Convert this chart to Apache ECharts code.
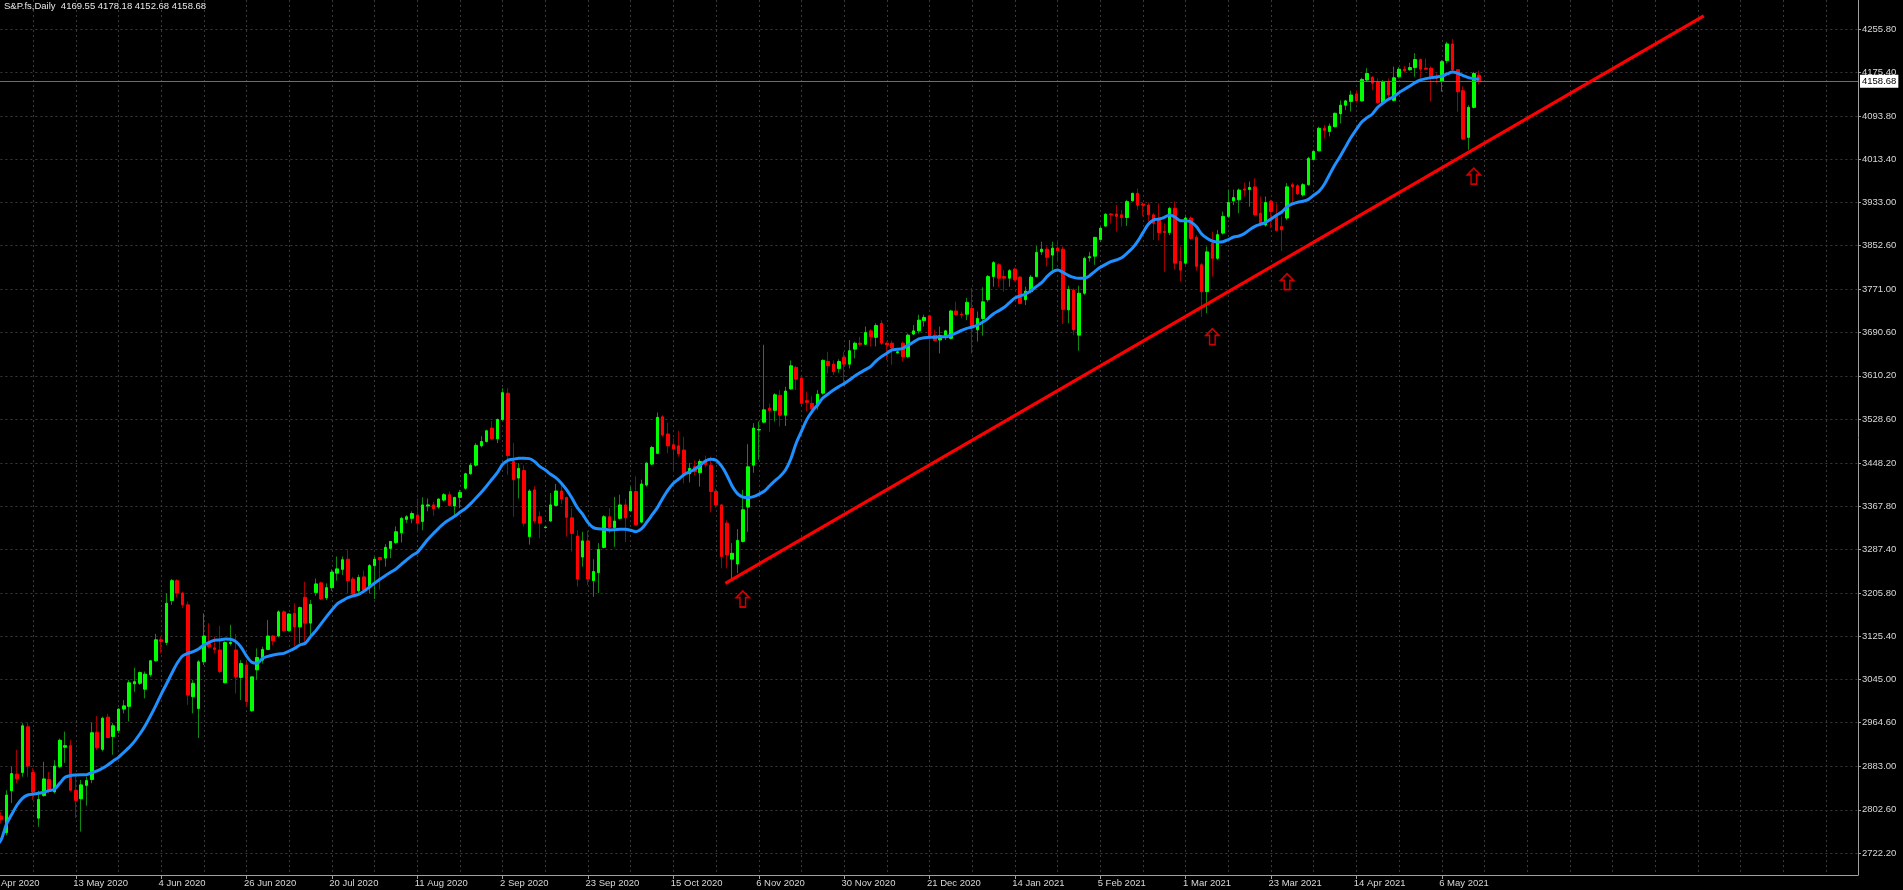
<!DOCTYPE html>
<html>
<head>
<meta charset="utf-8">
<script src="https://cdn.jsdelivr.net/npm/echarts@6/dist/echarts.min.js"></script>
<style>
html,body{margin:0;padding:0;background:#000;overflow:hidden;width:1903px;height:890px;position:relative;}
#chart{position:absolute;left:-20px;top:0;width:1923px;height:890px;}
</style>
</head>
<body>
<div id="chart"></div>
<script>
// ---------------- data ----------------
const chartTitle = 'S&P.fs,Daily  4169.55 4178.18 4152.68 4158.68';

// x tick labels, one every 16 bars starting at bar 0
const tickLabels = ['21 Apr 2020','13 May 2020','4 Jun 2020','26 Jun 2020','20 Jul 2020','11 Aug 2020',
  '2 Sep 2020','23 Sep 2020','15 Oct 2020','6 Nov 2020','30 Nov 2020','21 Dec 2020','14 Jan 2021',
  '5 Feb 2021','1 Mar 2021','23 Mar 2021','14 Apr 2021','6 May 2021'];

// price-scale labels on the right
const yTickValues = [4255.80,4175.40,4093.80,4013.40,3933.00,3852.60,3771.00,3690.60,3610.20,3528.60,
  3448.20,3367.80,3287.40,3205.80,3125.40,3045.00,2964.60,2883.00,2802.60,2722.20];

const open = [
2784,2736,2791,2760,2838,2869,2872,2957,2872,2787,
2829,2859,2836,2883,2919,2922,2839,2823,2848,2859,
2947,2915,2975,2939,2950,2990,2995,3037,3038,3027,
3054,3080,3119,3114,3192,3229,3206,3184,3013,2991,
3078,3112,3104,3100,3039,3112,3100,3049,3072,2987,
3063,3081,3101,3126,3126,3171,3136,3168,3143,3198,
3150,3207,3225,3197,3216,3243,3250,3269,3232,3210,
3236,3218,3257,3272,3271,3289,3300,3318,3343,3345,
3351,3339,3368,3370,3366,3379,3389,3368,3384,3401,
3428,3444,3480,3488,3513,3493,3529,3578,3451,3420,
3434,3311,3398,3348,3328,3340,3369,3396,3384,3346,
3312,3273,3303,3229,3244,3291,3348,3328,3345,3370,
3359,3395,3338,3407,3446,3466,3534,3502,3482,3480,
3472,3428,3441,3430,3452,3444,3395,3370,3336,3269,
3260,3302,3366,3444,3509.5,3524,3550,3546,3574,3537,
3586,3626,3606,3564,3559,3554,3578,3637,3632,3624,
3645,3632,3660,3671,3669,3694,3682,3708,3671,3671,
3653,3671,3646,3688,3694,3713,3722,3686,3677,3685,
3680,3731,3725,3725,3736,3696,3717,3752,3795,3817,
3795,3792,3809,3794,3752,3767,3795,3841,3846,3835,
3848,3846,3733,3770,3686,3764,3830,3833,3864,3889,
3911.5,3911.5,3910,3905,3936,3950,3930,3928,3910,3900,
3879,3877,3922,3823,3820,3904,3868,3817,3767,3857,
3829,3876,3907,3936,3938,3958,3957,3962,3913,3891,
3935,3908,3888,3904,3966,3964,3947,3966,4013,4029,
4071,4065,4074,4098,4114,4121,4135,4122,4161,4166,
4158,4119,4158,4123,4167,4181,4180,4184,4199,4183,
4183,4167,4158,4197,4228,4180,4141,4054,4110,4169.55];

const high = [
2786,2815,2799,2839,2883,2914,2964,2965,2880,2838,
2892,2873,2895,2935,2948,2933,2870,2858,2864,2965,
2977,2976,2981,2964,2991,3007,3044,3067,3060,3060,
3081,3130,3125,3206,3232,3232,3209,3190,3044,3081,
3168,3150,3125,3145,3116,3147,3130,3081,3078,3050,
3103,3106,3156,3128,3174,3174,3168,3187,3181,3227,
3193,3233,3227,3224,3250,3274,3274,3287,3236,3240,
3248,3260,3274,3274,3297,3302,3330,3348,3351,3358,
3382,3384,3382,3376,3382,3392,3395,3385,3398,3430,
3448,3485,3498,3510,3526,3531,3587,3587,3485,3448,
3444,3399,3405,3358,3330,3392,3409,3407,3385,3364,
3323,3320,3322,3269,3299,3351,3364,3385,3389,3381,
3404,3423,3417,3449,3480,3542,3537,3523,3494,3508,
3497,3448,3453,3455,3462,3460,3400,3371,3341,3299,
3325,3398,3483,3522,3525,3668,3559,3578,3584,3590,
3639,3629,3608,3581,3572,3584,3641,3655,3639,3641,
3655,3677,3674,3683,3702,3697,3708,3714,3674,3676,
3656,3674,3689,3705,3724,3724,3724,3696,3702,3696,
3733,3748,3730,3755,3774,3730,3775,3798,3824,3820,
3807,3809,3812,3796,3776,3798,3852,3860,3851,3860,
3863,3851,3778,3773,3778,3832,3841,3869,3888,3913,
3913,3928,3919,3938,3951,3959,3933,3933,3913,3931,
3894,3925,3935,3851,3910,3907,3872,3820,3851,3879,
3882,3916,3957,3957,3959,3970,3972,3978,3944,3944,
3938,3931,3907,3969,3970,3967,3969,4018,4031,4074,
4077,4080,4100,4123,4124,4141,4142,4165,4183,4168,
4164,4161,4164,4186,4185,4187,4193,4211,4201,4201,
4186,4173,4198,4232,4237,4181,4149,4114,4176,4178.18];

const low = [
2727,2730,2777,2755,2815,2852,2864,2864,2821,2771,
2827,2833,2833,2880,2890,2838,2787,2762,2810,2852,
2914,2911,2936,2905,2945,2982,2967,3022,3035,3010,
3050,3078,3094,3109,3184,3198,3178,2998,2982,2936,
3072,3103,3094,3057,3038,3108,3019,3007,2995,2985,
3045,3075,3100,3109,3124,3134,3134,3107,3112,3112,
3125,3201,3193,3193,3210,3229,3240,3205,3202,3202,
3207,3205,3195,3212,3255,3271,3297,3300,3336,3336,
3319,3323,3358,3350,3363,3376,3367,3348,3364,3398,
3426,3441,3477,3486,3491,3485,3526,3426,3348,3382,
3330,3296,3336,3308,3326,3339,3367,3372,3311,3283,
3218,3255,3221,3199,3206,3289,3317,3292,3343,3301,
3358,3331,3336,3404,3444,3465,3497,3466,3432,3460,
3410,3412,3425,3404,3440,3356,3365,3252,3252,3233,
3243,3300,3320,3430,3454,3522,3506,3525,3516,3517,
3584,3584,3556,3544,3547,3547,3575,3615,3612,3616,
3598,3624,3643,3665,3668,3665,3665,3668,3640,3631,
3652,3637,3643,3686,3689,3702,3596,3674,3652,3677,
3678,3722,3717,3714,3652,3674,3685,3748,3776,3776,
3767,3776,3786,3743,3742,3764,3794,3835,3814,3800,
3823,3707,3708,3686,3657,3761,3823,3817,3860,3888,
3894,3879,3888,3889,3934.5,3919,3907,3897,3863,3862,
3804,3872,3808,3786,3817,3863,3806,3720,3727,3795,
3826,3873,3904,3928,3913,3944,3925,3907,3888,3888,
3885,3879,3843,3900,3931,3947,3944,3964,4012,4028,
4052,4056,4073,4080,4105,4102,4119,4121,4158,4142,
4116,4118,4124,4121,4164,4175,4178,4167,4164,4180,
4121,4155,4139,4192,4177,4102,4049,4031,4108,4152.68];

const close = [
2736,2799,2784,2830,2870,2860,2959,2884,2836,2822,
2860,2839,2884,2932,2922,2839,2820,2849,2857,2946,
2918,2973,2937,2959,2990,2996,3039,3041,3058,3055,
3080,3119,3116,3187,3229,3206,3184,3016,3038,3078,
3126,3106,3101,3060,3114,3114,3050,3075,3004,3050,
3086,3101,3126,3117,3171,3136,3167,3143,3179,3150,
3185,3223,3195,3216,3245,3251,3268,3229,3204,3235,
3212,3257,3269,3268,3291,3302,3320,3345,3348,3354,
3336,3370,3370,3363,3381,3389,3369,3384,3393,3428,
3444,3481,3488,3508,3493,3529,3579,3462,3417,3438,
3336,3396,3340,3336,3329,3370,3396,3381,3347,3317,
3232,3303,3232,3246,3287,3348,3328,3340,3370,3346,
3395,3333,3409,3448,3477,3533,3500,3480,3474,3465,
3428,3438,3432,3451,3445,3395,3370,3274,3277,3280,
3304,3361,3441,3513,3510.5,3547,3546,3575,3537,3582,
3629,3604,3559,3561,3549,3576,3639,3629,3618,3637,
3632,3657,3671,3669,3691,3683,3704,3671,3668,3662,
3655,3646,3686,3694,3714,3719,3683,3676,3685,3694,
3731,3724,3724,3747,3702,3717,3748,3795,3821,3792,
3792,3806,3789,3745,3768,3794,3840,3846,3831,3848,
3843,3734,3771,3696,3764,3829,3832,3868,3885,3911,
3910,3907,3905,3934.5,3950,3928,3928,3910,3894,3877,
3877,3922,3820,3807,3904,3866,3814,3767,3841,3829,
3873,3907,3933,3942,3956,3956,3961,3910,3894,3933,
3916,3881,3882,3962,3962,3949,3966,4015,4028,4071,
4067,4075,4099,4114,4122,4133,4122,4162,4173,4155,
4119,4158,4133,4165,4181,4178,4184,4199,4181,4181,
4167,4164,4195,4228,4180,4139,4051,4110,4173,4158.68];

// blue moving-average line
const maLine = [
2722,2734,2746.4,2775.5,2794.1,2811.5,2823.9,2830.1,2832.0,2833.2,
2835.1,2838.2,2840.7,2851.8,2863.0,2866.1,2867.3,2868.0,2868.0,2871.7,
2874.8,2879.8,2886.0,2893.4,2900.2,2909.5,2918.8,2930.0,2943.6,2959.2,
2977.2,2996.4,3017.5,3036.7,3056.6,3075.2,3088.8,3093.8,3096.9,3101.9,
3109.3,3114.3,3118.0,3118.6,3120.5,3119.9,3115.5,3105.0,3088.8,3077.0,
3075.2,3084.5,3088.2,3090.7,3092.5,3093.8,3098.1,3103.1,3109.3,3112.5,
3124.9,3136.0,3149.1,3162.1,3174.5,3185.7,3191.9,3197.5,3200.6,3203.7,
3209.2,3216.7,3224.8,3231.6,3238.4,3244.6,3250.8,3259.5,3267.6,3275.6,
3281.8,3293.6,3306.0,3316.6,3326.5,3335.8,3342.6,3348.8,3356.3,3363.1,
3372.4,3383.0,3393.5,3405.3,3417.7,3430.1,3445.6,3453.1,3454.9,3456.8,
3456.8,3456.2,3450.6,3441.3,3435.1,3427.0,3420.2,3410.2,3397.8,3382.3,
3364.9,3352.6,3337.0,3327.7,3325.5,3324.7,3323.4,3324.0,3324.7,3324.7,
3322.8,3320.3,3325.3,3337.7,3351.3,3365.0,3382.3,3397.9,3410.3,3418.3,
3426.4,3431.4,3436.3,3443.7,3451.8,3454.9,3453.0,3442.5,3425.8,3405.3,
3391.0,3384.8,3383.6,3385.4,3389.8,3395.4,3405.3,3414.6,3423.3,3435.1,
3455.6,3484.7,3507.0,3528.8,3544.3,3556.1,3569.1,3576.5,3584.0,3590.2,
3595.8,3602.6,3610.0,3616.2,3621.8,3628.0,3638.0,3646.0,3652.2,3658.7,
3659.6,3661.5,3667.1,3673.3,3678.9,3681.3,3682.0,3682.0,3683.2,3683.2,
3685.7,3690.0,3695.0,3698.7,3701.2,3704.9,3710.5,3717.3,3726.0,3731.6,
3737.8,3746.5,3755.2,3758.9,3762.6,3768.8,3776.3,3783.7,3794.9,3803.6,
3807.3,3803.0,3797.4,3793.6,3791.8,3791.8,3796.7,3804.8,3812.3,3817.8,
3822.8,3825.9,3830.2,3838.3,3847.6,3860.6,3876.8,3892.3,3900.4,3902.2,
3905.3,3909.7,3905.9,3899.1,3899.1,3896.6,3888.0,3874.3,3866.3,3861.3,
3859.4,3860.0,3863.8,3868.7,3870.6,3874.9,3882.4,3888.6,3892.3,3896.0,
3902.2,3909.1,3915.3,3924.6,3930.2,3933.3,3935.1,3938.8,3946.3,3953.7,
3966.8,3985.4,4003.4,4019.5,4036.9,4054.2,4069.1,4082.8,4090.8,4097.7,
4110.1,4118.1,4125.0,4129.9,4137.4,4143.6,4149.8,4156.0,4160.9,4163.4,
4165.3,4166.5,4167.8,4172.1,4175.8,4173.3,4169.0,4165.3,4163.4,4162.8];

// red support trend line: [bar position, price]
const trendLine = [[137.74, 3224.2], [321.1, 4280.4]];
// red hollow up-arrows: [bar, price]
const arrowMarks = [[141, 3194.9], [229, 3683.1], [243, 3785.5], [278, 3981.9]];
const lastPrice = 4158.68;
const futureSlots = 71;          // empty bars shifted into the right margin
const yMin = 2681.2, yMax = 4309.8;

// ---------------- chart ----------------
const N = open.length + futureSlots;
const categories = Array.from({length: N}, (_, i) => String(i));
const wickData = open.map((o, i) => [o, close[i], low[i], high[i]]);
const bodyData = open.map((o, i) => [o, close[i], Math.min(o, close[i]), Math.max(o, close[i])]);
const isTick = (idx) => idx % 16 === 0 && idx / 16 < tickLabels.length;
const FONT = 'Liberation Sans';
const TXT = '#d8d8d8';
const AXIS = '#a0a0a0';
const GRID = '#3a3a3a';

const chart = echarts.init(document.getElementById('chart'), null, {renderer: 'canvas'});
chart.setOption({
  backgroundColor: '#000000',
  animation: false,
  title: {
    text: chartTitle, left: 24, top: 1, padding: 0,
    textStyle: {color: '#e6e6e6', fontSize: 9.5, fontWeight: 'normal', fontFamily: FONT}
  },
  // the chart div starts 20px left of the page, so bar 0 sits at page x = -9.6
  grid: [
    {left: 10.4, right: 45, top: 0, bottom: 15, containLabel: false},
    // same plot box nudged 2.6px left: carries only the date labels (MT draws them flush with the tick)
    {left: 7.8, right: 47.6, top: 0, bottom: 15, containLabel: false}
  ],
  xAxis: [{
    type: 'category', data: categories, boundaryGap: false, gridIndex: 0,
    axisLine: {onZero: false, lineStyle: {color: AXIS, width: 1}},
    axisTick: {interval: (idx) => isTick(idx), length: 4, lineStyle: {color: AXIS}},
    axisLabel: {show: false},
    splitLine: {show: true, interval: 7, lineStyle: {color: GRID, type: [2, 3], width: 1}}
  }, {
    type: 'value', min: 0, max: N - 1, show: false, gridIndex: 0
  }, {
    type: 'category', data: categories, boundaryGap: false, gridIndex: 1,
    axisLine: {show: false}, axisTick: {show: false}, splitLine: {show: false},
    axisLabel: {
      interval: (idx) => isTick(idx), showMinLabel: true, hideOverlap: false,
      formatter: (v) => tickLabels[Number(v) / 16] || '',
      align: 'left', margin: 3,
      color: TXT, fontSize: 9.5, fontFamily: FONT
    }
  }],
  yAxis: [{
    type: 'value', position: 'right', min: yMin, max: yMax, scale: true, gridIndex: 0,
    axisLine: {show: true, onZero: false, lineStyle: {color: AXIS, width: 1}},
    axisTick: {show: true, customValues: yTickValues, length: 3, lineStyle: {color: AXIS}},
    axisLabel: {
      customValues: yTickValues, formatter: (v) => Number(v).toFixed(2),
      color: TXT, fontSize: 9.5, fontFamily: FONT, margin: 4
    },
    splitLine: {show: true, lineStyle: {color: GRID, type: [2, 3], width: 1}}
  }, {
    type: 'value', min: yMin, max: yMax, show: false, gridIndex: 1
  }],
  series: [{
    name: 'wicks', type: 'candlestick', data: wickData, barWidth: 1, z: 2,
    itemStyle: {color: '#0f8a0f', color0: '#a00000', borderColor: '#0f8a0f', borderColor0: '#a00000', borderWidth: 1},
    markLine: {
      silent: true, symbol: ['none', 'none'], animation: false,
      data: [{yAxis: lastPrice}],
      lineStyle: {color: '#6e6e6e', type: 'solid', width: 1},
      label: {
        position: 'end', distance: 2, formatter: lastPrice.toFixed(2),
        backgroundColor: '#ffffff', color: '#000000', padding: [2, 2, 1, 2],
        fontSize: 9.5, fontFamily: FONT
      }
    }
  }, {
    name: 'bodies', type: 'candlestick', data: bodyData, barWidth: 3, z: 3,
    itemStyle: {color: '#00ff00', color0: '#ff0000', borderColor: '#00ff00', borderColor0: '#ff0000', borderWidth: 1}
  }, {
    name: 'MA', type: 'line', data: maLine, symbol: 'none', smooth: 0.3, z: 5,
    lineStyle: {color: '#1e90ff', width: 3}
  }, {
    name: 'trend', type: 'line', xAxisIndex: 1, data: trendLine, symbol: 'none', z: 6,
    lineStyle: {color: '#ff0000', width: 3.2}
  }, {
    name: 'arrows', type: 'scatter', xAxisIndex: 1, data: arrowMarks, z: 7,
    symbol: 'path://M7,0 L14,7 L10,7 L10,17 L4,17 L4,7 L0,7 Z', symbolSize: [13, 16],
    itemStyle: {color: 'rgba(0,0,0,0)', borderColor: '#ff0000', borderWidth: 1.6}
  }]
});
</script>
</body>
</html>
